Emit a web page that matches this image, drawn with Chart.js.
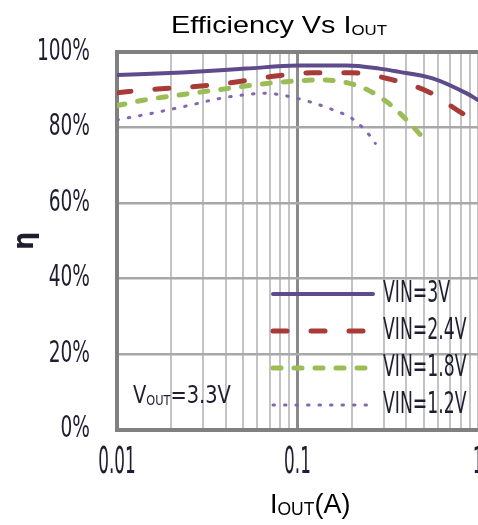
<!DOCTYPE html>
<html>
<head>
<meta charset="utf-8">
<script src="https://cdn.jsdelivr.net/npm/chart.js@4"></script>
<style>
  html, body { margin: 0; padding: 0; background: #fff; }
</style>
</head>
<body>
<canvas id="effChart" width="478" height="525"></canvas>
<script>
// data
const seriesLabels = ["VIN=3V", "VIN=2.4V", "VIN=1.8V", "VIN=1.2V"];

const iout3 = [0.01, 0.023, 0.052, 0.1, 0.187, 0.284, 0.36, 0.56, 0.86, 1];
const eff3 = [93.9, 94.6, 95.6, 96.4, 96.4, 95.6, 94.8, 93.0, 89.1, 87.3];

const iout24 = [0.01, 0.0157, 0.0262, 0.0436, 0.0716, 0.121, 0.2, 0.325, 0.54, 0.83, 1];
const eff24 = [89.2, 90.1, 90.8, 91.9, 93.5, 94.5, 94.5, 92.8, 89.3, 83.6, 81.8];

const iout18 = [0.01, 0.0139, 0.0244, 0.042, 0.058, 0.076, 0.103, 0.134, 0.194, 0.246, 0.32, 0.395, 0.49];
const eff18 = [85.8, 87.2, 88.9, 90.4, 91.3, 91.9, 92.4, 92.6, 91.7, 89.9, 86.4, 82.4, 77.6];

const iout12 = [0.01, 0.0157, 0.0243, 0.0371, 0.0499, 0.0657, 0.0884, 0.117, 0.155, 0.203, 0.25, 0.27];
const eff12 = [82.0, 83.8, 85.7, 87.7, 88.6, 89.1, 88.3, 86.8, 84.8, 82.2, 78.0, 75.8];

// log grid positions and the labelled decades
const xGridValues = [0.01, 0.02, 0.03, 0.04, 0.05, 0.06, 0.07, 0.08, 0.09,
                     0.1, 0.2, 0.3, 0.4, 0.5, 0.6, 0.7, 0.8, 0.9, 1];
const xTickValues = [0.01, 0.1, 1];
const xTickLabels = ["0.01", "0.1", "1"];
const yTickValues = [0, 20, 40, 60, 80, 100];
const yTickLabels = ["0%", "20%", "40%", "60%", "80%", "100%"];

const narrow = '"Liberation Sans Narrow", "DejaVu Sans Condensed", sans-serif';
const arial = '"Liberation Sans", Arial, sans-serif';
const textColor = "#1e1e30";

function zip(xs, ys) {
  return xs.map((x, i) => ({ x: x, y: ys[i] }));
}

function near(a, b) {
  return Math.abs(a - b) < 1e-9;
}

// tall, narrow text like the original's condensed face
function stretchText(ctx, text, x, y, font, sx, sy, align) {
  ctx.save();
  ctx.translate(x, y);
  ctx.scale(sx, sy);
  ctx.font = font;
  ctx.textAlign = align;
  ctx.textBaseline = "middle";
  ctx.fillText(text, 0, 0);
  ctx.restore();
}

// text with a subscript part, optionally stretched
function drawSubText(ctx, x, y, parts, sx, sy) {
  ctx.save();
  ctx.translate(x, y);
  ctx.scale(sx, sy);
  let cx = 0;
  parts.forEach((p) => {
    ctx.font = p.font;
    ctx.fillText(p.text, cx, p.dy || 0);
    cx += ctx.measureText(p.text).width;
  });
  ctx.restore();
  return cx * sx;
}

function partsWidth(ctx, parts) {
  let w = 0;
  parts.forEach((p) => {
    ctx.font = p.font;
    w += ctx.measureText(p.text).width;
  });
  return w;
}

const extrasPlugin = {
  id: "extras",
  afterDraw(chart) {
    const ctx = chart.ctx;
    const xs = chart.scales.x;
    const ys = chart.scales.y;
    ctx.save();
    ctx.fillStyle = "#000";
    ctx.textBaseline = "alphabetic";
    ctx.textAlign = "left";

    // title
    const titleParts = [
      { text: "Efficiency Vs I", font: "24px " + arial },
      { text: "OUT", font: "14px " + arial, dy: 2 },
    ];
    const tw = partsWidth(ctx, titleParts) * 1.2;
    drawSubText(ctx, 279 - tw / 2, 33, titleParts, 1.2, 1);

    // x axis title
    drawSubText(ctx, 270, 513, [
      { text: "I", font: "27px " + arial },
      { text: "OUT", font: "17.5px " + arial, dy: 2 },
      { text: "(A)", font: "27px " + arial },
    ], 1, 1);

    // tick labels at the scale positions
    ctx.fillStyle = textColor;
    yTickValues.forEach((v, i) => {
      stretchText(ctx, yTickLabels[i], 90, ys.getPixelForValue(v), "24px " + narrow, 0.86, 1.26, "right");
    });
    xTickValues.forEach((v, i) => {
      stretchText(ctx, xTickLabels[i], xs.getPixelForValue(v), 463, "26px " + narrow, 0.72, 1.45, "center");
    });

    // output voltage note
    ctx.textAlign = "left";
    ctx.textBaseline = "alphabetic";
    drawSubText(ctx, 133, 403, [
      { text: "V", font: "24px " + narrow },
      { text: "OUT", font: "14px " + narrow, dy: 2 },
      { text: "=3.3V", font: "24px " + narrow },
    ], 0.9, 1.05);

    // legend inside the plot
    chart.data.datasets.forEach((ds, i) => {
      const y = 294 + 37 * i;
      ctx.save();
      ctx.strokeStyle = ds.borderColor;
      ctx.lineWidth = ds.borderWidth;
      ctx.lineCap = "round";
      ctx.setLineDash(ds.borderDash || []);
      ctx.beginPath();
      ctx.moveTo(273, y);
      ctx.lineTo(373, y);
      ctx.stroke();
      ctx.restore();

      stretchText(ctx, ds.label, 383, y, "24px " + narrow, 0.8, 1.26, "left");
    });
    ctx.restore();
  },
};

const ctx = document.getElementById("effChart").getContext("2d");

new Chart(ctx, {
  type: "line",
  data: {
    datasets: [
      {
        label: seriesLabels[0],
        data: zip(iout3, eff3),
        borderColor: "#5f4a8c",
        borderWidth: 4,
        borderCapStyle: "round",
      },
      {
        label: seriesLabels[1],
        data: zip(iout24, eff24),
        borderColor: "#a83a38",
        borderWidth: 5,
        borderDash: [14, 24],
        borderCapStyle: "round",
      },
      {
        label: seriesLabels[2],
        data: zip(iout18, eff18),
        borderColor: "#9bbd55",
        borderWidth: 5,
        borderDash: [8, 13],
        borderCapStyle: "round",
      },
      {
        label: seriesLabels[3],
        data: zip(iout12, eff12),
        borderColor: "#8466b0",
        borderWidth: 3,
        borderDash: [1.5, 10],
        borderCapStyle: "round",
      },
    ],
  },
  options: {
    responsive: false,
    animation: false,
    layout: {
      padding: { top: 52, left: 0, right: 0, bottom: 0 },
      autoPadding: false,
    },
    elements: {
      point: { radius: 0 },
      line: { cubicInterpolationMode: "monotone", fill: false },
    },
    plugins: {
      legend: { display: false },
      tooltip: { enabled: false },
      title: { display: false },
    },
    scales: {
      x: {
        type: "logarithmic",
        min: 0.01,
        max: 1,
        afterBuildTicks: (scale) => {
          scale.ticks = xGridValues.map((v) => ({ value: v }));
        },
        afterFit: (scale) => {
          scale.height = 95.5;
          scale.paddingLeft = 0;
          scale.paddingRight = 0;
        },
        ticks: { display: false, autoSkip: false, maxRotation: 0 },
        grid: {
          drawTicks: false,
          color: (c) => (c.tick && near(c.tick.value, 0.1) ? "#8a8a8a" : "#c4c4c4"),
          lineWidth: (c) => (c.tick && near(c.tick.value, 0.1) ? 3 : 2),
        },
        border: { color: "#808080", width: 4 },
      },
      y: {
        min: 0,
        max: 100,
        afterBuildTicks: (scale) => {
          scale.ticks = yTickValues.map((v) => ({ value: v }));
        },
        afterFit: (scale) => {
          scale.width = 117;
          scale.paddingTop = 0;
          scale.paddingBottom = 0;
        },
        ticks: { display: false },
        grid: {
          drawTicks: false,
          color: (c) => (c.tick && c.tick.value === 100 ? "#808080" : "#a8a8a8"),
          lineWidth: (c) => (c.tick && c.tick.value === 100 ? 4 : 2.5),
        },
        border: { color: "#808080", width: 4 },
        title: {
          display: true,
          text: "η",
          color: textColor,
          font: { family: narrow, size: 28, weight: "bold", lineHeight: 1 },
          padding: { top: 12, bottom: 0 },
        },
      },
    },
  },
  plugins: [extrasPlugin],
});
</script>
</body>
</html>
